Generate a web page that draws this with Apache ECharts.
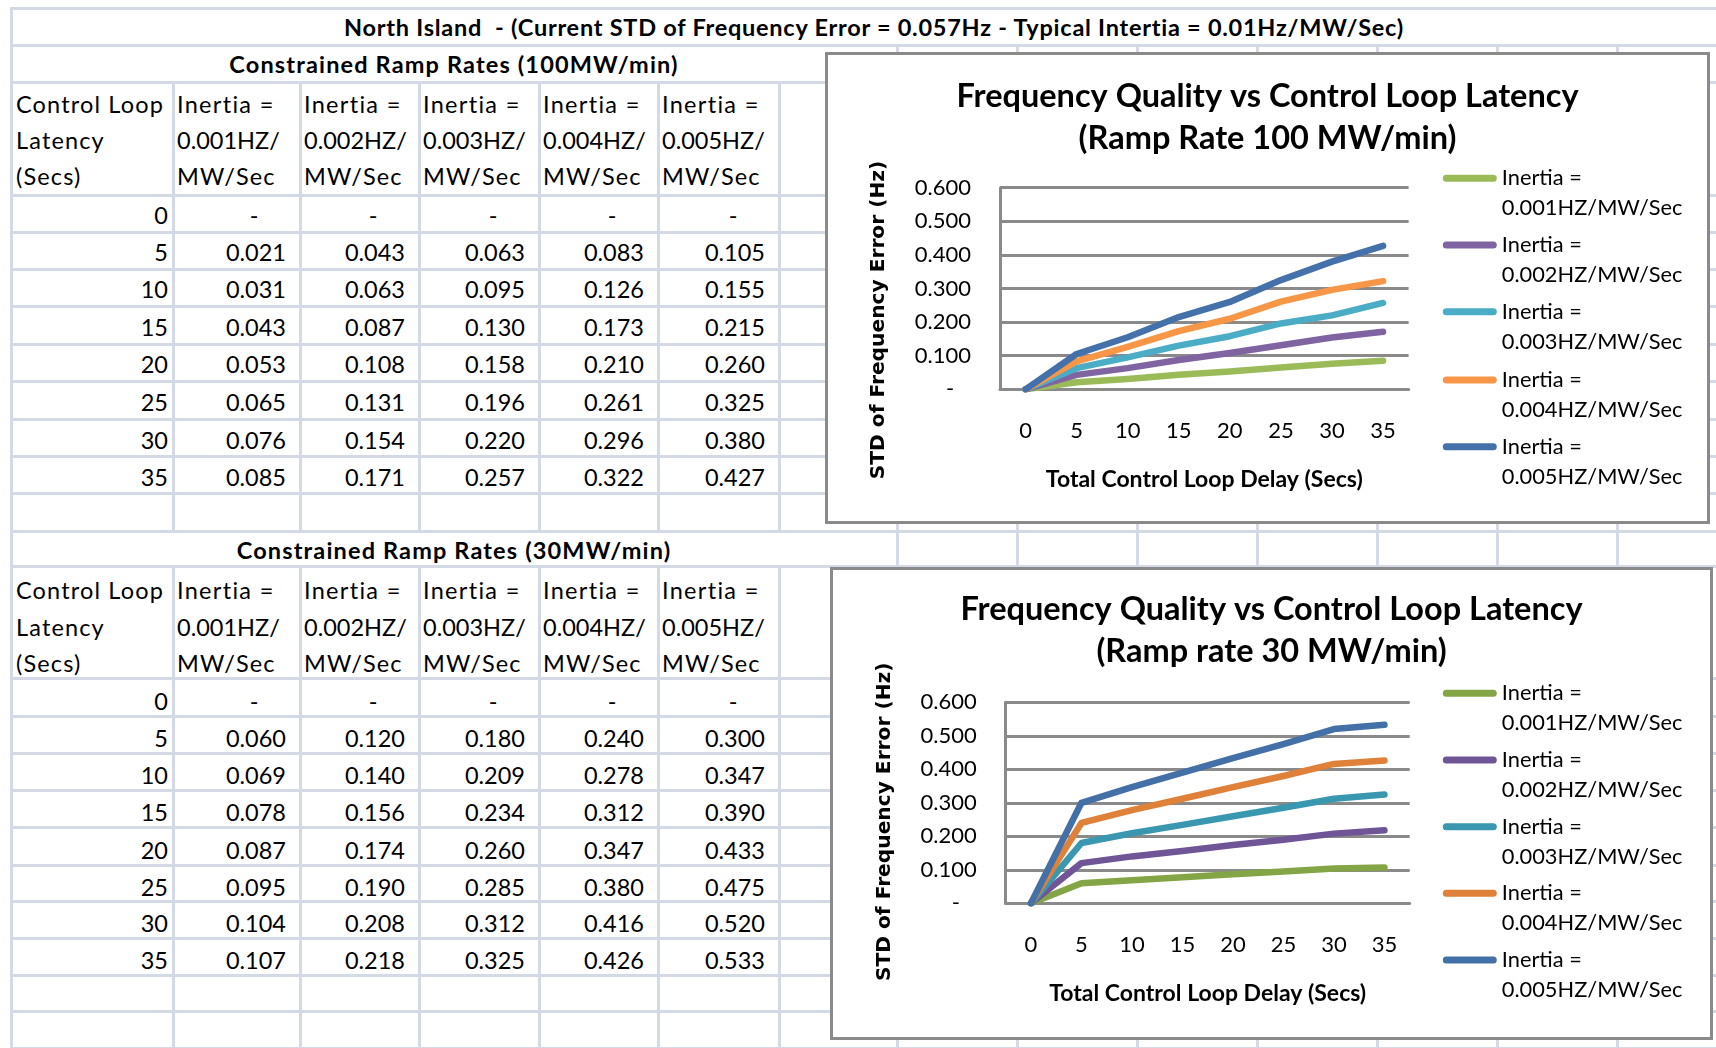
<!DOCTYPE html>
<html><head><meta charset="utf-8">
<script src="https://cdn.jsdelivr.net/npm/echarts@6/dist/echarts.min.js"></script>
<style>
html,body{margin:0;padding:0;background:#fff;}
#page{position:relative;width:1716px;height:1048px;overflow:hidden;background:#fff;font-family:Lato,'Noto Sans',sans-serif;}
.ln{position:absolute;background:#d3dae6;}
.tx{position:absolute;white-space:pre;color:#000;font-size:23.5px;line-height:30px;}
.box{position:absolute;box-sizing:border-box;border:3px solid #8a8a8a;background:#fff;}
.box .c{position:absolute;left:0;top:0;width:100%;height:100%;}
</style></head>
<body><div id="page"></div>
<script>
// ---------- data ----------
const pageTitle = 'North Island  - (Current STD of Frequency Error = 0.057Hz - Typical Intertia = 0.01Hz/MW/Sec)';
const section100Title = 'Constrained Ramp Rates (100MW/min)';
const section30Title = 'Constrained Ramp Rates (30MW/min)';
const chart100Title = 'Frequency Quality vs Control Loop Latency\n(Ramp Rate 100 MW/min)';
const chart30Title = 'Frequency Quality vs Control Loop Latency\n(Ramp rate 30 MW/min)';
const rowHeaderLines = ['Control Loop', 'Latency', '(Secs)'];
const latency = [0, 5, 10, 15, 20, 25, 30, 35];
const inertiaValues = ['0.001', '0.002', '0.003', '0.004', '0.005'];
const inertiaNames = ['Inertia =\n0.001HZ/MW/Sec', 'Inertia =\n0.002HZ/MW/Sec', 'Inertia =\n0.003HZ/MW/Sec', 'Inertia =\n0.004HZ/MW/Sec', 'Inertia =\n0.005HZ/MW/Sec'];
const ramp100_i1 = [0, 0.021, 0.031, 0.043, 0.053, 0.065, 0.076, 0.085];
const ramp100_i2 = [0, 0.043, 0.063, 0.087, 0.108, 0.131, 0.154, 0.171];
const ramp100_i3 = [0, 0.063, 0.095, 0.130, 0.158, 0.196, 0.220, 0.257];
const ramp100_i4 = [0, 0.083, 0.126, 0.173, 0.210, 0.261, 0.296, 0.322];
const ramp100_i5 = [0, 0.105, 0.155, 0.215, 0.260, 0.325, 0.380, 0.427];
const ramp30_i1 = [0, 0.060, 0.069, 0.078, 0.087, 0.095, 0.104, 0.107];
const ramp30_i2 = [0, 0.120, 0.140, 0.156, 0.174, 0.190, 0.208, 0.218];
const ramp30_i3 = [0, 0.180, 0.209, 0.234, 0.260, 0.285, 0.312, 0.325];
const ramp30_i4 = [0, 0.240, 0.278, 0.312, 0.347, 0.380, 0.416, 0.426];
const ramp30_i5 = [0, 0.300, 0.347, 0.390, 0.433, 0.475, 0.520, 0.533];
const yTickLabels = ['-', '0.100', '0.200', '0.300', '0.400', '0.500', '0.600'];
const xAxisTitle = 'Total Control Loop Delay (Secs)';
const yAxisTitle = 'STD of Frequency Error (Hz)';

const ramp100 = [ramp100_i1, ramp100_i2, ramp100_i3, ramp100_i4, ramp100_i5];
const ramp30 = [ramp30_i1, ramp30_i2, ramp30_i3, ramp30_i4, ramp30_i5];

// ---------- spreadsheet layout ----------
const page = document.getElementById('page');
const colX = [11, 173, 300, 419, 539, 658, 779, 897, 1017, 1137, 1257, 1377, 1497, 1617, 1737];
const rowY = [8.3, 45, 82, 195, 232, 269, 306.7, 344, 381.7, 419.3, 456.7, 493.3, 531.7, 566.7, 678, 716, 753, 790.7, 827, 865, 901.7, 938, 975, 1011.7, 1048.7];
const LW = 3;
function line(x, y, w, h) { const d = document.createElement('div'); d.className = 'ln'; d.style.left = x + 'px'; d.style.top = y + 'px'; d.style.width = w + 'px'; d.style.height = h + 'px'; page.appendChild(d); }
rowY.forEach(y => line(colX[0] - LW / 2, y - LW / 2, 1716, LW));
for (let r = 0; r < rowY.length - 1; r++) {
  colX.forEach((x, ci) => {
    if (r === 0 && ci > 0) return;
    if ((r === 1 || r === 12) && ci > 0 && ci < 7) return;
    line(x - LW / 2, rowY[r], LW, rowY[r + 1] - rowY[r]);
  });
}
function txt(s, x, y, align, bold, ls) {
  const d = document.createElement('div'); d.className = 'tx'; d.textContent = s;
  d.style.left = x + 'px'; d.style.top = y + 'px';
  const tx = align === 'center' ? '-50%' : align === 'right' ? '-100%' : '0';
  d.style.transform = 'translate(' + tx + ',-50%)';
  if (bold) d.style.fontWeight = 'bold';
  if (ls) d.style.letterSpacing = ls + 'px';
  page.appendChild(d);
}
txt(pageTitle, 874, 27, 'center', true, 0.75);
function section(title, titleY, headY, dataRowTop, values, dy) {
  txt(title, 454, titleY, 'center', true, 1.15);
  rowHeaderLines.forEach((s, i) => txt(s, 16, headY[i], 'left', false, 1.15));
  inertiaValues.forEach((v, j) => {
    const x = colX[j + 1] + 4;
    txt('Inertia =', x, headY[0], 'left', false, 1.3);
    txt(v + 'HZ/', x, headY[1], 'left');
    txt('MW/Sec', x, headY[2], 'left', false, 1.1);
  });
  latency.forEach((l, i) => {
    const yc = (rowY[dataRowTop + i] + rowY[dataRowTop + i + 1]) / 2 + dy;
    txt(String(l), colX[1] - 5, yc, 'right');
    values.forEach((arr, j) => {
      const v = arr[i];
      if (v === 0) txt('-', colX[j + 2] - 46, yc, 'center');
      else txt(v.toFixed(3), colX[j + 2] - 14, yc, 'right');
    });
  });
}
section(section100Title, 64, [104, 140, 176], 3, ramp100, 1.5);
section(section30Title, 549.5, [590, 627, 663], 14, ramp30, 3.5);

// ---------- charts ----------
function makeBox(left, top, w, h) {
  const b = document.createElement('div'); b.className = 'box';
  b.style.left = left + 'px'; b.style.top = top + 'px'; b.style.width = w + 'px'; b.style.height = h + 'px';
  const c = document.createElement('div'); c.className = 'c'; b.appendChild(c); page.appendChild(b);
  return c;
}
const colors100 = ['#9BBB59', '#8064A2', '#4BACC6', '#F79646', '#4471A9'];
const colors30 = ['#84A546', '#6F5596', '#3A97B0', '#E0813A', '#4470A8'];
const legendIcon = 'path://M3.5,0 H50.5 A3.5,3.5 0 0 1 50.5,7 H3.5 A3.5,3.5 0 0 1 3.5,0 Z';

function chartOption(cfg) {
  return {
    animation: false,
    backgroundColor: '#fff',
    title: {
      text: cfg.title, left: 'center', top: cfg.titleTop,
      textStyle: { fontFamily: 'Lato', fontWeight: 'bold', fontSize: 32.5, lineHeight: cfg.titleLH, color: '#000' }
    },
    grid: { left: cfg.grid[0], top: cfg.grid[1], width: cfg.grid[2], height: cfg.grid[3], containLabel: false },
    legend: inertiaNames.map((n, i) => ({
      data: [n], left: cfg.legendX, top: cfg.legendY[i] - 45, padding: 0,
      icon: legendIcon, itemWidth: 54, itemHeight: 7, itemGap: 0,
      formatter: name => ' \n' + name,
      textStyle: { fontFamily: 'Lato', fontSize: 21.8, lineHeight: 30, color: '#000' },
      selectedMode: false
    })),
    xAxis: {
      type: 'category', data: latency.map(String), boundaryGap: true,
      axisLine: { lineStyle: { color: '#8a8a8a', width: 3 } },
      axisTick: { show: false },
      axisLabel: { margin: 31, fontFamily: 'Lato', fontSize: 22, color: '#000' },
      name: xAxisTitle, nameLocation: 'middle', nameGap: 79,
      nameTextStyle: { fontFamily: 'Lato', fontWeight: 'bold', fontSize: 23, color: '#000' }
    },
    yAxis: {
      type: 'value', min: 0, max: 0.6, interval: 0.1,
      axisLine: { show: true, lineStyle: { color: '#8a8a8a', width: 3 } },
      axisTick: { show: false },
      splitLine: { lineStyle: { color: '#8a8a8a', width: 3 } },
      axisLabel: {
        margin: 29, fontFamily: 'Lato', fontSize: 22, color: '#000',
        formatter: v => { const k = Math.round(v * 10); return k === 0 ? yTickLabels[0] + '   ' : yTickLabels[k]; }
      },
      name: yAxisTitle, nameLocation: 'middle', nameRotate: 90, nameGap: cfg.yNameGap,
      nameTextStyle: { fontFamily: 'DejaVu Sans', fontWeight: 'bold', fontSize: 20.2, color: '#000', padding: [0, cfg.yNameShift, 0, 0] }
    },
    series: cfg.data.map((arr, i) => ({
      name: inertiaNames[i], type: 'line', data: arr, symbol: 'none',
      lineStyle: { width: 6.5, color: cfg.colors[i], cap: 'round', join: 'round' },
      itemStyle: { color: cfg.colors[i] }
    }))
  };
}
const c1 = echarts.init(makeBox(825, 52, 885, 472));
c1.setOption(chartOption({
  title: chart100Title, titleTop: 15.5, titleLH: 41.7,
  grid: [172, 132.7, 408.6, 201.6], legendX: 614.8, legendY: [123.3, 190, 256.7, 325, 391.7],
  yNameGap: 111, yNameShift: 63, data: ramp100, colors: colors100
}));
const c2 = echarts.init(makeBox(830, 567, 883, 473));
c2.setOption(chartOption({
  title: chart30Title, titleTop: 13.4, titleLH: 42.4,
  grid: [172.7, 132.3, 404, 201], legendX: 609.8, legendY: [123.3, 190, 256.7, 323.3, 390],
  yNameGap: 111, yNameShift: 38, data: ramp30, colors: colors30
}));
</script></body></html>
